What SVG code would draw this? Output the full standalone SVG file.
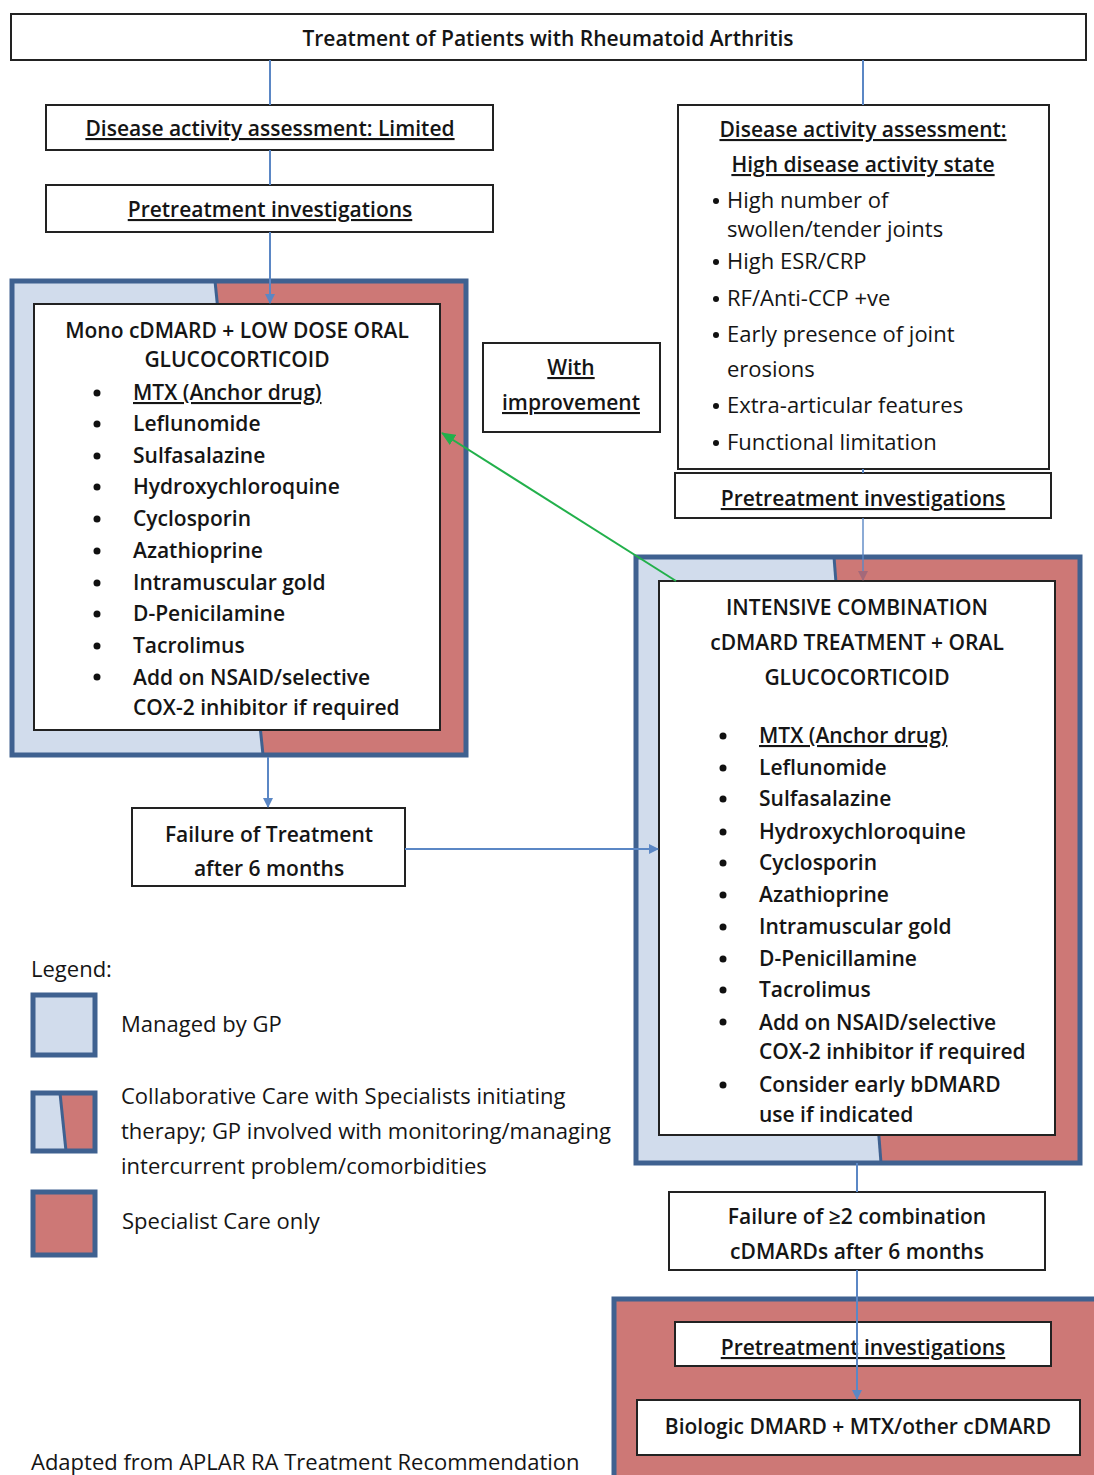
<svg xmlns="http://www.w3.org/2000/svg" width="1094" height="1475" viewBox="0 0 1094 1475">
<style>
text{font-family:"Open Sans","Liberation Sans",sans-serif;font-size:21px;font-weight:600;fill:#151515;}
.n{font-weight:400;font-size:22px;}
.c{text-anchor:middle;}
.u{text-decoration:underline;}
.box{fill:#fff;stroke:#222;stroke-width:2;}
.frame{fill:none;stroke:#3f6190;stroke-width:5;}
.gp{fill:#d1dcec;}
.sp{fill:#cd7876;}
.div{stroke:#3f6190;stroke-width:3;fill:none;}
.con{stroke:#5b87c5;stroke-width:2;fill:none;}
</style>
<defs>
<marker id="ab" markerWidth="10" markerHeight="10" refX="9" refY="5" orient="auto" markerUnits="userSpaceOnUse"><path d="M0,0 L10,5 L0,10 z" fill="#5b87c5"/></marker>
<marker id="am" markerWidth="10" markerHeight="10" refX="9" refY="5" orient="auto" markerUnits="userSpaceOnUse"><path d="M0,0 L10,5 L0,10 z" fill="#a4697a"/></marker>
<marker id="ag" markerWidth="14" markerHeight="12" refX="13" refY="6" orient="auto" markerUnits="userSpaceOnUse"><path d="M0,0 L14,6 L0,12 z" fill="#22b04b"/></marker>
</defs>
<rect width="1094" height="1475" fill="#fff"/>

<g id="panel-left">
<rect x="12" y="281" width="454" height="474" class="gp"/>
<polygon points="215,281 466,281 466,755 263,755" class="sp"/>
<line x1="215" y1="281" x2="263" y2="755" class="div"/>
<rect x="12" y="281" width="454" height="474" class="frame"/>
</g>
<g id="panel-right">
<rect x="636" y="557" width="444" height="606" class="gp"/>
<polygon points="834,557 1080,557 1080,1163 881,1163" class="sp"/>
<line x1="834" y1="557" x2="881" y2="1163" class="div"/>
<rect x="636" y="557" width="444" height="606" class="frame"/>
</g>
<g id="panel-bottom">
<rect x="614" y="1299" width="490" height="190" class="sp" stroke="#3f6190" stroke-width="5"/>
</g>

<g id="title">
<rect x="11" y="14" width="1075" height="46" class="box"/>
<text x="548" y="46" class="c" font-size="22">Treatment of Patients with Rheumatoid Arthritis</text>
</g>

<g id="limited">
<rect x="46" y="105" width="447" height="45" class="box"/>
<text x="270" y="136" class="c u">Disease activity assessment: Limited</text>
</g>

<g id="pretreat-left">
<rect x="46" y="185" width="447" height="47" class="box"/>
<text x="270" y="217" class="c u">Pretreatment investigations</text>
</g>

<g id="mono">
<rect x="34" y="304" width="406" height="426" class="box"/>
<text x="237" y="338" class="c">Mono cDMARD + LOW DOSE ORAL</text>
<text x="237" y="367" class="c">GLUCOCORTICOID</text>
<circle cx="97" cy="393" r="3.5" fill="#111"/><text x="133" y="400" class="u">MTX (Anchor drug)</text>
<circle cx="97" cy="424" r="3.5" fill="#111"/><text x="133" y="431">Leflunomide</text>
<circle cx="97" cy="456" r="3.5" fill="#111"/><text x="133" y="463">Sulfasalazine</text>
<circle cx="97" cy="487" r="3.5" fill="#111"/><text x="133" y="494">Hydroxychloroquine</text>
<circle cx="97" cy="519" r="3.5" fill="#111"/><text x="133" y="526">Cyclosporin</text>
<circle cx="97" cy="551" r="3.5" fill="#111"/><text x="133" y="558">Azathioprine</text>
<circle cx="97" cy="583" r="3.5" fill="#111"/><text x="133" y="590">Intramuscular gold</text>
<circle cx="97" cy="614" r="3.5" fill="#111"/><text x="133" y="621">D-Penicilamine</text>
<circle cx="97" cy="646" r="3.5" fill="#111"/><text x="133" y="653">Tacrolimus</text>
<circle cx="97" cy="677" r="3.5" fill="#111"/><text x="133" y="685">Add on NSAID/selective</text>
<text x="133" y="715">COX-2 inhibitor if required</text>
</g>

<g id="failure-left">
<rect x="132" y="808" width="273" height="78" class="box"/>
<text x="269" y="842" class="c">Failure of Treatment</text>
<text x="269" y="876" class="c">after 6 months</text>
</g>

<g id="improvement">
<rect x="483" y="343" width="177" height="89" class="box"/>
<text x="571" y="375" class="c u">With</text>
<text x="571" y="410" class="c u">improvement</text>
</g>

<g id="high">
<rect x="678" y="105" width="371" height="364" class="box"/>
<text x="863" y="137" class="c u">Disease activity assessment:</text>
<text x="863" y="172" class="c u">High disease activity state</text>
<circle cx="716" cy="201" r="3" fill="#111"/><text x="727" y="208" class="n">High number of</text>
<text x="727" y="237" class="n">swollen/tender joints</text>
<circle cx="716" cy="262" r="3" fill="#111"/><text x="727" y="269" class="n">High ESR/CRP</text>
<circle cx="716" cy="299" r="3" fill="#111"/><text x="727" y="306" class="n">RF/Anti-CCP +ve</text>
<circle cx="716" cy="335" r="3" fill="#111"/><text x="727" y="342" class="n">Early presence of joint</text>
<text x="727" y="377" class="n">erosions</text>
<circle cx="716" cy="406" r="3" fill="#111"/><text x="727" y="413" class="n">Extra-articular features</text>
<circle cx="716" cy="443" r="3" fill="#111"/><text x="727" y="450" class="n">Functional limitation</text>
</g>

<g id="pretreat-right">
<rect x="675" y="473" width="376" height="45" class="box"/>
<text x="863" y="506" class="c u">Pretreatment investigations</text>
</g>

<g id="intensive">
<rect x="659" y="581" width="396" height="554" class="box"/>
<text x="857" y="615" class="c">INTENSIVE COMBINATION</text>
<text x="857" y="650" class="c">cDMARD TREATMENT + ORAL</text>
<text x="857" y="685" class="c">GLUCOCORTICOID</text>
<circle cx="723" cy="736" r="3.5" fill="#111"/><text x="759" y="743" class="u">MTX (Anchor drug)</text>
<circle cx="723" cy="768" r="3.5" fill="#111"/><text x="759" y="775">Leflunomide</text>
<circle cx="723" cy="799" r="3.5" fill="#111"/><text x="759" y="806">Sulfasalazine</text>
<circle cx="723" cy="832" r="3.5" fill="#111"/><text x="759" y="839">Hydroxychloroquine</text>
<circle cx="723" cy="863" r="3.5" fill="#111"/><text x="759" y="870">Cyclosporin</text>
<circle cx="723" cy="895" r="3.5" fill="#111"/><text x="759" y="902">Azathioprine</text>
<circle cx="723" cy="927" r="3.5" fill="#111"/><text x="759" y="934">Intramuscular gold</text>
<circle cx="723" cy="959" r="3.5" fill="#111"/><text x="759" y="966">D-Penicillamine</text>
<circle cx="723" cy="990" r="3.5" fill="#111"/><text x="759" y="997">Tacrolimus</text>
<circle cx="723" cy="1022" r="3.5" fill="#111"/><text x="759" y="1030">Add on NSAID/selective</text>
<text x="759" y="1059">COX-2 inhibitor if required</text>
<circle cx="723" cy="1085" r="3.5" fill="#111"/><text x="759" y="1092">Consider early bDMARD</text>
<text x="759" y="1122">use if indicated</text>
</g>

<g id="failure-right">
<rect x="669" y="1192" width="376" height="78" class="box"/>
<text x="857" y="1224" class="c">Failure of ≥2 combination</text>
<text x="857" y="1259" class="c">cDMARDs after 6 months</text>
</g>

<g id="pretreat-bottom">
<rect x="675" y="1322" width="376" height="44" class="box"/>
<text x="863" y="1355" class="c u">Pretreatment investigations</text>
</g>

<g id="biologic">
<rect x="637" y="1400" width="443" height="55" class="box"/>
<text x="858" y="1434" class="c" font-size="22">Biologic DMARD + MTX/other cDMARD</text>
</g>

<g id="connectors">
<line x1="270" y1="60" x2="270" y2="105" class="con"/>
<line x1="863" y1="60" x2="863" y2="105" class="con"/>
<line x1="270" y1="150" x2="270" y2="185" class="con"/>
<line x1="270" y1="232" x2="270" y2="303" class="con" marker-end="url(#ab)"/>
<line x1="268" y1="757" x2="268" y2="807" class="con" marker-end="url(#ab)"/>
<line x1="405" y1="849" x2="658" y2="849" class="con" marker-end="url(#ab)"/>
<line x1="863" y1="469" x2="863" y2="473" class="con"/>
<line x1="863" y1="518" x2="863" y2="580" class="con" stroke-opacity="0.7" marker-end="url(#am)"/>
<line x1="857" y1="1163" x2="857" y2="1192" class="con"/>
<line x1="857" y1="1270" x2="857" y2="1399" class="con" marker-end="url(#ab)"/>
<line x1="676" y1="581" x2="442" y2="433" stroke="#22b04b" stroke-width="2" marker-end="url(#ag)"/>
</g>

<g id="legend">
<text x="31" y="977" class="n">Legend:</text>
<rect x="33" y="995" width="62" height="60" class="gp" stroke="#3f6190" stroke-width="5"/>
<text x="121" y="1032" class="n">Managed by GP</text>
<rect x="33" y="1093" width="62" height="58" class="gp"/>
<polygon points="60,1093 95,1093 95,1151 66,1151" class="sp"/>
<line x1="60" y1="1093" x2="66" y2="1151" class="div"/>
<rect x="33" y="1093" width="62" height="58" fill="none" stroke="#3f6190" stroke-width="5"/>
<text x="121" y="1104" class="n">Collaborative Care with Specialists initiating</text>
<text x="121" y="1139" class="n">therapy; GP involved with monitoring/managing</text>
<text x="121" y="1174" class="n">intercurrent problem/comorbidities</text>
<rect x="33" y="1192" width="62" height="63" class="sp" stroke="#3f6190" stroke-width="5"/>
<text x="122" y="1229" class="n">Specialist Care only</text>
<text x="31" y="1470" class="n">Adapted from APLAR RA Treatment Recommendation</text>
</g>
</svg>
